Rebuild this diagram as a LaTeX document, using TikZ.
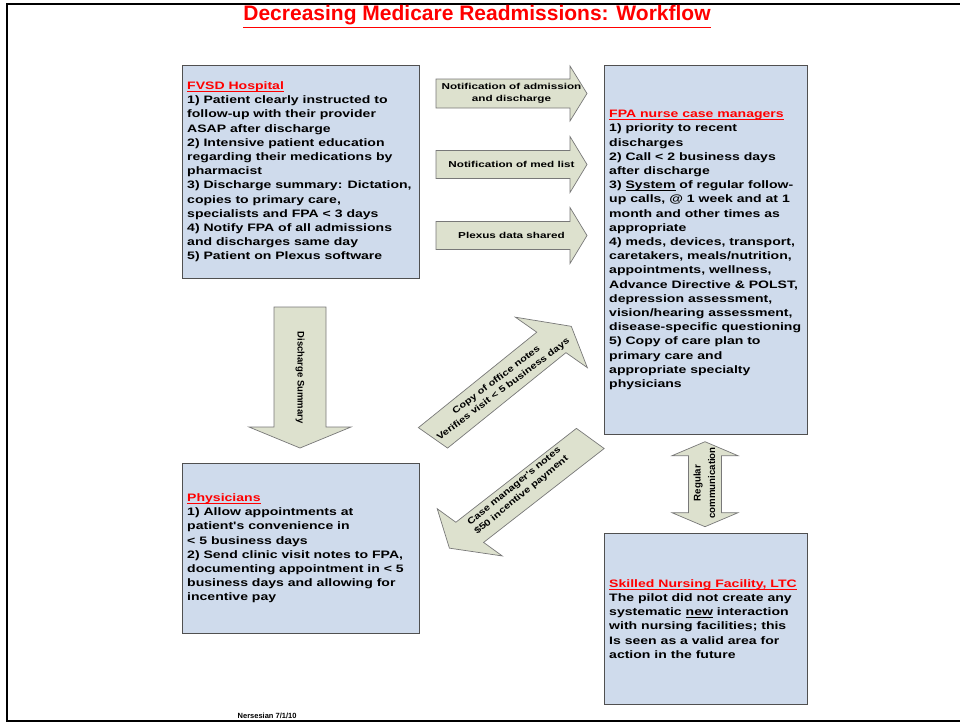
\documentclass[tikz,border=0pt]{standalone}
\usepackage{fontspec}
\setmainfont{Liberation Sans}
\newfontfamily\widefont{Liberation Sans}[FakeStretch=1.3]
\newfontfamily\widerfont{Liberation Sans}[FakeStretch=1.36]
\newfontfamily\diagfont{Liberation Sans}[FakeStretch=1.25]
\definecolor{boxfill}{RGB}{207,219,236}
\definecolor{boxline}{RGB}{80,80,80}
\definecolor{arrfill}{RGB}{221,225,206}
\definecolor{arrline}{RGB}{120,120,120}
\newcommand\myul[1]{\setbox0\hbox{#1}\rlap{\rule[-2.4pt]{\wd0}{0.9pt}}\box0\relax}
\newcommand\hdr[1]{\textcolor{red}{\myul{#1}}}
% block arrow: center, angle, length, shaft half, head half, head length
\newcommand\blockarrow[6]{%
  \begin{scope}[shift={#1},rotate=#2]
    \draw[arr] (-#3/2,-#4) -- (#3/2-#6,-#4) -- (#3/2-#6,-#5) -- (#3/2,0)
      -- (#3/2-#6,#5) -- (#3/2-#6,#4) -- (-#3/2,#4) -- cycle;
  \end{scope}}
\begin{document}
\begin{tikzpicture}[x=1pt,y=-1pt,
  box/.style={draw=boxline, fill=boxfill, line width=0.8pt, anchor=north west, inner sep=0pt},
  boxtext/.style={anchor=west, inner sep=0pt, align=left, font=\widefont\bfseries\fontsize{10.8}{14.2}\selectfont},
  arr/.style={draw=arrline, fill=arrfill, line width=0.7pt},
  alabel/.style={inner sep=0pt, align=center, font=\widerfont\bfseries\fontsize{8.6}{12}\selectfont},
  vlabel/.style={inner sep=0pt, align=center, font=\bfseries\fontsize{9.5}{13.5}\selectfont},
  dlabel/.style={inner sep=0pt, align=center, font=\diagfont\bfseries\fontsize{8.9}{11.5}\selectfont},
  frame/.style={line width=2pt, black}
  ]
\useasboundingbox (0,0) rectangle (960,723);
% frame
\draw[frame] (960,3.5) -- (7,3.5) -- (7,721) -- (960,721);
% title
\node[font=\bfseries\fontsize{21}{25}\selectfont, text=red, inner sep=0pt] (title) at (477,16.5) {\underline{Decreasing Medicare Readmissions: Workflow}};
% boxes
\node[box, minimum width=237pt, minimum height=213pt] (fvsd) at (182,65) {};
\node[boxtext] (fvsdtext) at ([xshift=5pt]fvsd.west) {\hdr{FVSD Hospital}\\
1) Patient clearly instructed to\\
follow-up with their provider\\
ASAP after discharge\\
2) Intensive patient education\\
regarding their medications by\\
pharmacist\\
3) Discharge summary: Dictation,\\
copies to primary care,\\
specialists and FPA < 3 days\\
4) Notify FPA of all admissions\\
and discharges same day\\
5) Patient on Plexus software};

\node[box, minimum width=203pt, minimum height=369pt] (fpa) at (604,65) {};
\node[boxtext] (fpatext) at ([xshift=5pt]fpa.west) {\hdr{FPA nurse case managers}\\
1) priority to recent\\
discharges\\
2) Call < 2 business days\\
after discharge\\
3) \myul{System} of regular follow-\\
up calls, @ 1 week and at 1\\
month and other times as\\
appropriate\\
4) meds, devices, transport,\\
caretakers, meals/nutrition,\\
appointments, wellness,\\
Advance Directive \& POLST,\\
depression assessment,\\
vision/hearing assessment,\\
disease-specific questioning\\
5) Copy of care plan to\\
primary care and\\
appropriate specialty\\
physicians};

\node[box, minimum width=237pt, minimum height=170pt] (phys) at (182,463) {};
\node[boxtext] (phystext) at ([xshift=5pt]phys.west) {\hdr{Physicians}\\
1) Allow appointments at\\
patient's convenience in\\
< 5 business days\\
2) Send clinic visit notes to FPA,\\
documenting appointment in < 5\\
business days and allowing for\\
incentive pay};

\node[box, minimum width=203pt, minimum height=171pt] (snf) at (604,533) {};
\node[boxtext] (snftext) at ([xshift=5pt]snf.west) {\hdr{Skilled Nursing Facility, LTC}\\
The pilot did not create any\\
systematic \myul{new} interaction\\
with nursing facilities; this\\
Is seen as a valid area for\\
action in the future};

% horizontal arrows
\blockarrow{(511.5,93.5)}{0}{151}{14.5}{27.5}{17}
\node[alabel] (notif1) at (511.5,93.5) {Notification of admission\\and discharge};
\blockarrow{(511.5,164.5)}{0}{151}{14}{28}{17}
\node[alabel] (notif2) at (511.5,164.5) {Notification of med list};
\blockarrow{(511.5,235.5)}{0}{151}{14}{28}{17}
\node[alabel] (plexus) at (511.5,235.5) {Plexus data shared};

% down arrow
\blockarrow{(300,377.5)}{-90}{141}{26}{51}{21}
\node[vlabel, rotate=-90] (dsum) at (300,377.5) {Discharge Summary};

% double arrow
\begin{scope}[shift={(705,484.2)}]
  \draw[arr] (0,-42.5) -- (33,-28.5) -- (16.5,-28.5) -- (16.5,28.5) -- (33,28.5) -- (0,42.5)
    -- (-33,28.5) -- (-16.5,28.5) -- (-16.5,-28.5) -- (-33,-28.5) -- cycle;
\end{scope}
\node[vlabel, rotate=90, font=\bfseries\fontsize{9.7}{14.5}\selectfont] (regcomm) at (704.5,483) {Regular\\communication};

% diagonal arrows
\begin{scope}[shift={(501,383)}, xscale=1.33, rotate=47]
  \draw[arr] (-75,-15) -- (55.5,-15) -- (55.5,-37) -- (77.5,0) -- (55.5,37) -- (55.5,15) -- (-75,15) -- cycle;
\end{scope}
\node[dlabel, rotate=37] (copy) at (500,385) {Copy of office notes\\Verifies visit < 5 business days};
\begin{scope}[shift={(521,492.4)}, xscale=1.33, rotate=46]
  \draw[arr] (75,-14.5) -- (-55.5,-14.5) -- (-55.5,-34) -- (-77.5,0) -- (-55.5,34) -- (-55.5,14.5) -- (75,14.5) -- cycle;
\end{scope}
\node[dlabel, rotate=39.5] (casenotes) at (518,491) {Case manager's notes\\\$50 incentive payment};

% footer
\node[font=\bfseries\fontsize{7.5}{9}\selectfont, anchor=west, inner sep=0pt] (foot) at (237.5,716) {Nersesian 7/1/10};
\end{tikzpicture}
\end{document}
